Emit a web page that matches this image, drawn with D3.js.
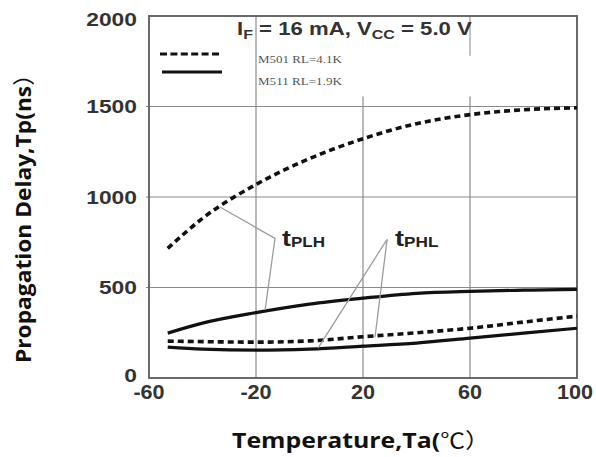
<!DOCTYPE html>
<html><head><meta charset="utf-8">
<script src="https://cdn.jsdelivr.net/npm/d3@7"></script>
<style>html,body{margin:0;padding:0;background:#fff;}svg{display:block;}</style>
</head><body>
<svg id="c" width="596" height="457"></svg>
<script>
// ---- data ----
const temps   = [-53, -40, -20, 0, 20, 40, 60, 80, 100];
const plhM501 = [716, 882, 1069, 1212, 1322, 1405, 1455, 1482, 1493];
const plhM511 = [248, 303, 361, 408, 441, 468, 479, 485, 490];
const phlM501 = [204, 201, 198, 205, 228, 250, 275, 309, 342];
const phlM511 = [171, 160, 154, 160, 176, 193, 220, 248, 275];
const xTicks = [-60, -20, 20, 60, 100];
const yTicks = [0, 500, 1000, 1500, 2000];
const legendNames = ["M501 RL=4.1K", "M511 RL=1.9K"];
// annotation leader lines (data units): [from, vertex, to]
const plhLeader = [[-33.5, 945], [-12.9, 771], [-16.6, 375]];
const phlLeaderA = [[3.2, 165], [29, 766]];
const phlLeaderB = [[24.5, 226], [29, 766]];
const plhLabelPos = [-10.3, 727];
const phlLabelPos = [32, 727];

const svg = d3.select("#c");
const x = d3.scaleLinear().domain([-60, 100]).range([149, 577]);
const y = d3.scaleLinear().domain([0, 2000]).range([378, 16]);

function fit(sel, w) {
  const bw = sel.node().getBBox().width;
  const t = sel.attr("data-t");
  sel.attr("transform", t + " scale(" + (w / bw) + ",1)");
}

// gridlines
const g = svg.append("g");
g.selectAll("line.vg").data(xTicks.slice(1, -1)).join("line")
  .attr("x1", d => x(d)).attr("x2", d => x(d))
  .attr("y1", y(2000)).attr("y2", y(0))
  .attr("stroke", "#8a8a8a").attr("stroke-width", 1.2);
g.selectAll("line.hg").data(yTicks.slice(1, -1)).join("line")
  .attr("x1", x(-60) - 3).attr("x2", x(100))
  .attr("y1", d => y(d)).attr("y2", d => y(d))
  .attr("stroke", "#8a8a8a").attr("stroke-width", 1.2);

// white area behind title/legend (gridlines hidden there)
svg.append("rect").attr("x", x(-20) + 1.5).attr("y", y(2000) + 1)
  .attr("width", x(100) - x(-20) - 2.5).attr("height", y(1555) - y(2000) - 1)
  .attr("fill", "#fff");
svg.append("line").attr("x1", x(60)).attr("x2", x(60)).attr("y1", y(2000)).attr("y2", y(1780))
  .attr("stroke", "#9a9a9a").attr("stroke-width", 1.2);

// frame
svg.append("rect").attr("x", x(-60)).attr("y", y(2000))
  .attr("width", x(100) - x(-60)).attr("height", y(0) - y(2000))
  .attr("fill", "none").attr("stroke", "#5a5a5a").attr("stroke-width", 1.8);

// curves
const line = d3.line().x(d => x(d[0])).y(d => y(d[1])).curve(d3.curveMonotoneX);
const series = [
  {v: plhM501, dash: true}, {v: plhM511, dash: false},
  {v: phlM501, dash: true}, {v: phlM511, dash: false}
];
series.forEach(s => {
  svg.append("path").datum(temps.map((t, i) => [t, s.v[i]]))
    .attr("d", line).attr("fill", "none").attr("stroke", "#111")
    .attr("stroke-width", s.dash ? 3.6 : 3.2)
    .attr("stroke-dasharray", s.dash ? "6,4" : null);
});

// leader lines
const lp = d3.line().x(d => x(d[0])).y(d => y(d[1]));
[plhLeader, phlLeaderA, phlLeaderB].forEach(p => {
  svg.append("path").attr("d", lp(p)).attr("fill", "none")
    .attr("stroke", "#9c9c9c").attr("stroke-width", 1.3);
});

function tLabel(pos, sub, w) {
  const t = svg.append("text").attr("data-t", `translate(${x(pos[0])},${y(pos[1])})`)
    .attr("font-family", "Liberation Sans, Arial, sans-serif").attr("font-weight", "bold")
    .attr("fill", "#222");
  t.append("tspan").attr("font-size", 22).text("t");
  t.append("tspan").attr("font-size", 14).attr("dy", 1).text(sub);
  t.attr("transform", t.attr("data-t"));
  fit(t, w);
}
tLabel(plhLabelPos, "PLH", 43);
tLabel(phlLabelPos, "PHL", 44);

// y tick labels
yTicks.forEach(v => {
  const off = v === 2000 ? 9.5 : (v === 0 ? 3.5 : 6.5);
  const t = svg.append("text").attr("data-t", `translate(137,${y(v) + off})`)
    .attr("text-anchor", "end").attr("font-family", "Liberation Sans, Arial, sans-serif")
    .attr("font-weight", "bold").attr("font-size", 18).attr("fill", "#333").text(v);
  t.attr("transform", t.attr("data-t"));
  fit(t, String(v).length * 12.7);
});
// x tick labels
xTicks.forEach(v => {
  svg.append("text").attr("transform", `translate(${x(v) + (v === 100 ? -2 : 0)},399) scale(1.08,1)`)
    .attr("text-anchor", "middle").attr("font-family", "Liberation Sans, Arial, sans-serif")
    .attr("font-weight", "bold").attr("font-size", 20).attr("fill", "#333").text(v);
});

// title
const title = svg.append("text").attr("data-t", "translate(237,35)")
  .attr("font-family", "Liberation Sans, Arial, sans-serif").attr("font-weight", "bold")
  .attr("font-size", 18).attr("fill", "#333");
title.append("tspan").text("I");
title.append("tspan").attr("font-size", 13).attr("dy", 4).text("F");
title.append("tspan").attr("dy", -4).text(" = 16 mA, V");
title.append("tspan").attr("font-size", 13).attr("dy", 4).text("CC");
title.append("tspan").attr("dy", -4).text(" = 5.0 V");
title.attr("transform", title.attr("data-t"));
fit(title, 235);

// legend
svg.append("line").attr("x1", 160).attr("x2", 222).attr("y1", 54).attr("y2", 54)
  .attr("stroke", "#111").attr("stroke-width", 3).attr("stroke-dasharray", "7,3.4");
svg.append("line").attr("x1", 162).attr("x2", 222).attr("y1", 72).attr("y2", 72)
  .attr("stroke", "#111").attr("stroke-width", 3);
legendNames.forEach((n, i) => {
  const t = svg.append("text").attr("data-t", `translate(258,${63 + i * 22})`)
    .attr("font-family", "Liberation Serif, Times New Roman, serif").attr("font-size", 11)
    .attr("fill", "#555").text(n);
  t.attr("transform", t.attr("data-t"));
  fit(t, 84);
});

// axis titles
const xl = svg.append("text").attr("data-t", "translate(232,448)")
  .attr("font-family", "Open Sans, sans-serif").attr("font-weight", "bold")
  .attr("font-size", 21).attr("fill", "#111");
xl.append("tspan").text("Temperature,Ta(");
xl.append("tspan").attr("font-family", "Noto Sans CJK SC").attr("font-weight", "normal").text("℃）");
xl.attr("transform", xl.attr("data-t"));
fit(xl, 258);

const yl = svg.append("text").attr("data-t", "translate(31,363) rotate(-90)")
  .attr("font-family", "Open Sans, sans-serif").attr("font-weight", "bold")
  .attr("font-size", 22).attr("fill", "#111");
yl.append("tspan").text("Propagation Delay,Tp(ns");
yl.append("tspan").attr("font-family", "Noto Sans CJK SC").attr("font-weight", "normal").text("）");
yl.attr("transform", yl.attr("data-t"));
fit(yl, 300);
</script>
</body></html>
